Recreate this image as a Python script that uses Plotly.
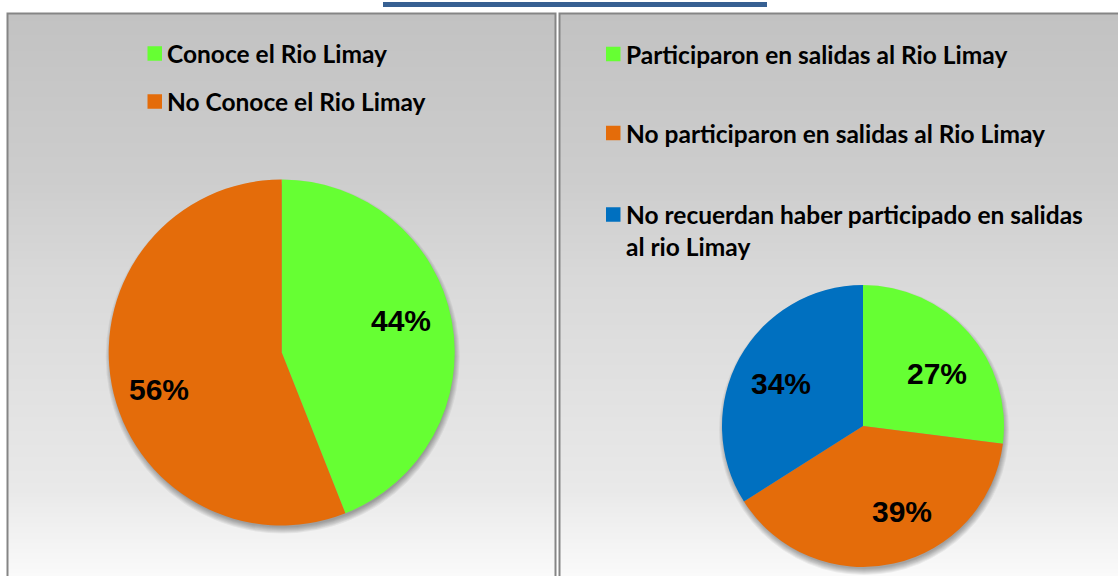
import math
import plotly.graph_objects as go

# ---------------- data ----------------
left_labels = ["Conoce el Rio Limay", "No Conoce el Rio Limay"]
left_values = [44, 56]

right_labels = [
    "Participaron en salidas al Rio Limay",
    "No participaron en salidas al Rio Limay",
    "No recuerdan haber participado en salidas al rio Limay",
]
right_values = [27, 39, 34]

# ---------------- styles ----------------
W, H = 1118, 576
GREEN, ORANGE, BLUE = "#66FF33", "#E46C0A", "#0070C0"
left_colors = [GREEN, ORANGE]
right_colors = [GREEN, ORANGE, BLUE]
LEG_FONT = dict(family="Lato, 'Open Sans', sans-serif", size=24.5, color="black", weight="bold")
PCT_FONT = dict(family="'Liberation Sans', Arial, sans-serif", size=30, color="black", weight="bold")

# pie geometry (pixels): centre x, centre y, radius
PIE1 = (281.7, 352.5, 173)
PIE2 = (863.0, 426.0, 141)
# percentage label placement tweaks (degrees off mid-angle, radius fraction)
left_lab_adj = [(-5, 0.716), (-5.4, 0.736)]
right_lab_adj = [(5.4, 0.646), (-12.3, 0.655), (-0.6, 0.66)]


def px(x):
    return x / W


def py(y):
    return 1 - y / H


def domain(c):
    cx, cy, r = c
    return dict(x=[px(cx - r), px(cx + r)], y=[py(cy + r), py(cy - r)])


fig = go.Figure()
for labels, values, colors, geo in [
    (left_labels, left_values, left_colors, PIE1),
    (right_labels, right_values, right_colors, PIE2),
]:
    fig.add_trace(go.Pie(
        labels=labels, values=values, sort=False, direction="clockwise",
        rotation=0, marker=dict(colors=colors, line=dict(width=0)),
        textinfo="none", hoverinfo="label+percent", showlegend=False,
        domain=domain(geo),
    ))

shapes = []
# background gradient bands
stops = [(13, 194), (180, 205), (280, 217), (490, 233), (576, 250)]


def grey(y):
    for (y0, c0), (y1, c1) in zip(stops[:-1], stops[1:]):
        if y0 <= y <= y1:
            v = c0 + (c1 - c0) * (y - y0) / (y1 - y0)
            return int(round(v))
    return stops[-1][1]


step = 2
y = 13
while y < 576:
    g = grey(y + step / 2)
    col = f"rgb({g},{g},{g})"
    for xa, xb in [(8, 555), (560, 1118)]:
        shapes.append(dict(type="rect", xref="paper", yref="paper",
                           x0=px(xa), x1=px(xb), y0=py(y + step + 0.5), y1=py(y),
                           fillcolor=col, line=dict(width=0), layer="below"))
    y += step

# pie shadows
for (cx, cy, r) in [PIE1, PIE2]:
    for i in range(7):
        rr = r + 4 - i
        shapes.append(dict(type="circle", xref="paper", yref="paper",
                           x0=px(cx - rr + 1), x1=px(cx + rr + 1),
                           y0=py(cy + 4 + rr), y1=py(cy + 4 - rr),
                           fillcolor="rgba(0,0,0,0.055)", line=dict(width=0),
                           layer="below"))

# panel borders
shapes.append(dict(type="rect", xref="paper", yref="paper",
                   x0=px(7.5), x1=px(555.5), y0=py(580), y1=py(13.5),
                   line=dict(color="#858585", width=2), fillcolor="rgba(0,0,0,0)",
                   layer="below"))
shapes.append(dict(type="rect", xref="paper", yref="paper",
                   x0=px(559.5), x1=px(1125), y0=py(580), y1=py(13.5),
                   line=dict(color="#858585", width=2), fillcolor="rgba(0,0,0,0)",
                   layer="below"))
# blue header line
shapes.append(dict(type="rect", xref="paper", yref="paper",
                   x0=px(383), x1=px(767), y0=py(7), y1=py(2),
                   fillcolor="#376092", line=dict(width=0), layer="below"))

annotations = []


def legend(labels, colors, sq_x, txt_x, rows, size=14.5):
    for lab, col, row in zip(labels, colors, rows):
        ys = row
        shapes.append(dict(type="rect", xref="paper", yref="paper",
                           x0=px(sq_x), x1=px(sq_x + size),
                           y0=py(ys[0] + size / 2), y1=py(ys[0] - size / 2),
                           fillcolor=col, line=dict(width=0), layer="above"))
        # wrap long label into lines matching the rows given
        if len(ys) == 1:
            lines = [lab]
        else:
            cut = lab.rfind(" ", 0, len(lab) - 12)
            lines = [lab[:cut], lab[cut + 1:]]
        for line, yy in zip(lines, ys):
            annotations.append(dict(text=line, xref="paper", yref="paper",
                                    x=px(txt_x), y=py(yy), xanchor="left",
                                    yanchor="middle", showarrow=False,
                                    font=LEG_FONT))


legend(left_labels, left_colors, 147.5, 165, [[53.5], [101.5]])
legend(right_labels, right_colors, 606, 624, [[54], [133], [214.5, 246.5]])


def pct_labels(values, geo, adj):
    cx, cy, r = geo
    total = sum(values)
    cum = 0
    for v, (da, rf) in zip(values, adj):
        mid = (cum + v / 2) / total * 360 + da
        cum += v
        a = math.radians(mid)
        x = cx + rf * r * math.sin(a)
        y = cy - rf * r * math.cos(a)
        annotations.append(dict(text=f"{round(v / total * 100)}%", xref="paper",
                                yref="paper", x=px(x), y=py(y + 1.5),
                                xanchor="center", yanchor="middle",
                                showarrow=False, font=PCT_FONT))


pct_labels(left_values, PIE1, left_lab_adj)
pct_labels(right_values, PIE2, right_lab_adj)

fig.update_layout(
    width=W, height=H, margin=dict(l=0, r=0, t=0, b=0),
    paper_bgcolor="white", plot_bgcolor="white",
    shapes=shapes, annotations=annotations,
    xaxis=dict(visible=False), yaxis=dict(visible=False),
)
fig.write_html("out.html", config={"displayModeBar": False},
               post_script="document.body.style.margin='0';document.body.style.overflow='hidden';")
